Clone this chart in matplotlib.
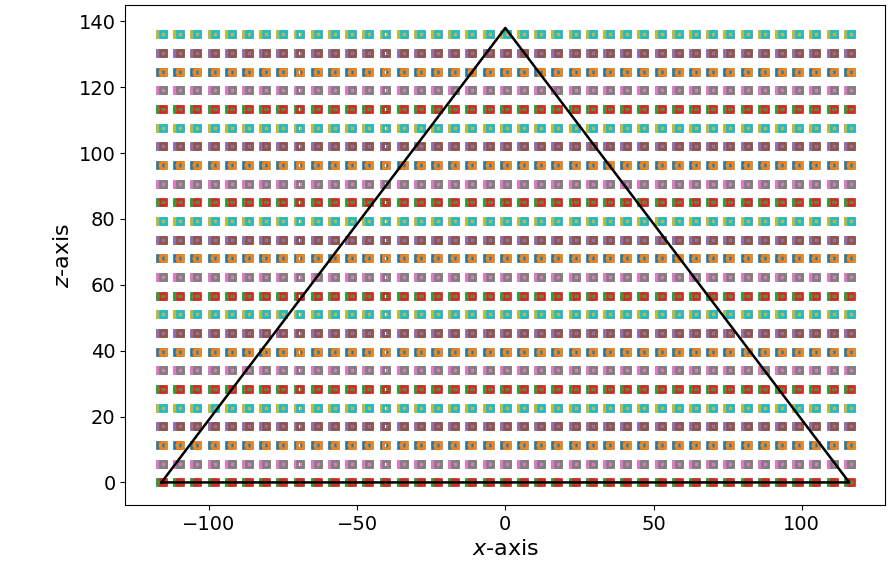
import numpy as np
import matplotlib
matplotlib.use('Agg')
import matplotlib.pyplot as plt

# grid of sample points (columns in x, rows in z)
x_cols = [-116.0, -110.2, -104.4, -98.6, -92.8, -87.0, -81.2, -75.4, -69.6, -63.8,
          -58.0, -52.2, -46.4, -40.6, -34.8, -29.0, -23.2, -17.4, -11.6, -5.8,
          0.0, 5.8, 11.6, 17.4, 23.2, 29.0, 34.8, 40.6, 46.4, 52.2,
          58.0, 63.8, 69.6, 75.4, 81.2, 87.0, 92.8, 98.6, 104.4, 110.2, 116.0]
z_rows = [0.0, 5.67, 11.33, 17.0, 22.67, 28.33, 34.0, 39.67, 45.33, 51.0,
          56.67, 62.33, 68.0, 73.67, 79.33, 85.0, 90.67, 96.33, 102.0, 107.67,
          113.33, 119.0, 124.67, 130.33, 136.0]

# triangle outline
tri_x = [-116, 0, 116, -116]
tri_z = [0, 138, 0, 0]

fig, ax = plt.subplots(figsize=(8.96, 5.76), dpi=100)
fig.subplots_adjust(left=0.14, right=0.988, top=0.991, bottom=0.123)

xs = np.array(x_cols)
shift = 0.5
for z in z_rows:
    zz = [z] * len(xs)
    # four series per row, colours come from the default cycle
    for dx in (-shift, shift, -shift, shift):
        ax.plot(xs + dx, zz, 's', fillstyle='none', markersize=4.0,
                markeredgewidth=1.8, linestyle='none')

ax.plot(tri_x, tri_z, 'k-', linewidth=1.8, zorder=5)

ax.set_xlabel('$x$-axis', fontsize=16)
ax.set_ylabel('$z$-axis', fontsize=16)
ax.tick_params(labelsize=14)
ax.set_xticks([-100, -50, 0, 50, 100])
ax.set_yticks([0, 20, 40, 60, 80, 100, 120, 140])

plt.savefig('out.png', dpi=100)
